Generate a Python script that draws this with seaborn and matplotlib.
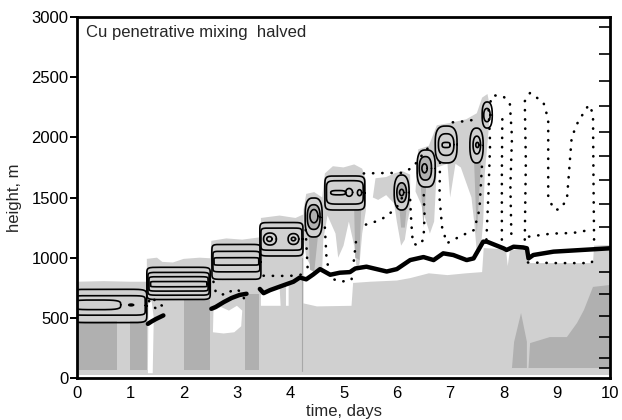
import numpy as np
import pandas as pd
import matplotlib
matplotlib.use("Agg")
import matplotlib.pyplot as plt
import seaborn as sns

# ---------------- data ----------------
# axis ticks
x_ticks = [0, 1, 2, 3, 4, 5, 6, 7, 8, 9, 10]
y_ticks = [0, 500, 1000, 1500, 2000, 2500, 3000]
right_ticks_m = [81, 164, 343, 518, 698, 883, 1069, 1258, 1446, 1645,
                 1848, 2047, 2261, 2471, 2692, 2914]

# boundary-layer top (thick line), three segments: day, height (m)
bl_seg1_day = [1.33, 1.40, 1.48, 1.55, 1.62]
bl_seg1_h = [450, 470, 490, 505, 520]
bl_seg2_day = [2.52, 2.60, 2.75, 2.90, 3.05, 3.18]
bl_seg2_h = [575, 590, 630, 665, 690, 700]
bl_seg3_day = [3.43, 3.50, 3.62, 3.87, 4.06, 4.18, 4.30, 4.43, 4.56, 4.75,
               4.93, 5.12, 5.22, 5.43, 5.81, 6.00, 6.25, 6.50, 6.69, 6.87,
               7.06, 7.31, 7.44, 7.62, 7.69, 8.00, 8.06, 8.19, 8.37, 8.44,
               8.47, 8.56, 8.94, 10.0]
bl_seg3_h = [740, 705, 730, 770, 800, 835, 820, 860, 905, 858,
             875, 880, 910, 925, 885, 905, 980, 1005, 980, 1036,
             1022, 980, 994, 1133, 1133, 1078, 1064, 1091, 1085, 1078,
             994, 1022, 1050, 1078]

# solid cloud contours: (day_left, day_right, h_bottom, h_top, squareness)
contours = [
    # day 1
    (-0.10, 1.31, 460, 737, 10), (-0.10, 1.28, 522, 684, 10),
    (-0.10, 0.82, 568, 648, 4), (0.97, 1.06, 600, 614, 2),
    # day 2
    (1.31, 2.50, 652, 920, 12), (1.33, 2.48, 688, 878, 12),
    (1.35, 2.46, 722, 842, 12), (1.38, 2.44, 758, 802, 12),
    # day 3
    (2.53, 3.45, 820, 1110, 12), (2.55, 3.43, 882, 1053, 12),
    (2.57, 3.41, 938, 1000, 12),
    # day 4
    (3.43, 4.24, 1014, 1292, 10), (3.45, 4.22, 1062, 1246, 10),
    (3.50, 3.74, 1105, 1205, 2.2), (3.56, 3.66, 1135, 1175, 2),
    (3.96, 4.16, 1110, 1200, 2.2), (4.02, 4.10, 1140, 1170, 2),
    # day 4.5
    (4.28, 4.60, 1172, 1496, 3), (4.32, 4.56, 1235, 1440, 2.5),
    (4.37, 4.52, 1290, 1400, 2),
    # day 5
    (4.65, 5.40, 1396, 1679, 8), (4.68, 5.37, 1445, 1640, 6),
    (4.76, 5.04, 1522, 1558, 3), (5.04, 5.17, 1510, 1575, 2),
    (5.26, 5.34, 1515, 1565, 2),
    # day 6
    (5.95, 6.23, 1396, 1687, 2.5), (6.00, 6.18, 1460, 1622, 2.2),
    (6.05, 6.13, 1515, 1568, 2),
    # day 6.5
    (6.38, 6.72, 1587, 1895, 3), (6.42, 6.65, 1645, 1840, 2.5),
    (6.47, 6.57, 1705, 1780, 2),
    # day 7
    (6.72, 7.13, 1787, 2094, 3), (6.78, 7.07, 1850, 2030, 2.6),
    (6.85, 7.00, 1915, 1958, 3),
    # day 7.5
    (7.37, 7.62, 1787, 2077, 2.5), (7.43, 7.57, 1862, 2010, 2.2),
    (7.48, 7.54, 1915, 1958, 2),
    (7.60, 7.79, 2077, 2294, 2.5), (7.63, 7.75, 2130, 2240, 2.2),
]
# contours that are filled light / mid grey
light_filled = [17, 20, 25, 28, 31, 35, 38]
mid_filled = [18, 26, 29, 36]

# dotted contours: lists of (day, height)
dotted = [
    [(1.35, 640), (1.42, 600), (1.50, 570), (1.58, 545)],
    [(1.45, 650), (1.52, 620), (1.60, 600)],
    [(2.56, 800), (2.60, 720), (2.68, 690), (2.80, 700)],
    [(2.88, 720), (3.00, 740), (3.10, 700), (3.15, 640)],
    [(3.50, 850), (3.80, 848), (4.05, 850), (4.22, 860)],
    [(4.29, 1230), (4.31, 1050), (4.33, 880)],
    [(4.65, 1250), (4.68, 1000), (4.75, 830), (4.95, 800), (5.15, 815),
     (5.20, 1000), (5.25, 1200)],
    [(5.42, 1275), (5.60, 1300), (5.80, 1340), (6.00, 1420), (6.10, 1500)],
    [(5.38, 1700), (5.70, 1703), (6.10, 1705), (6.30, 1750), (6.45, 1840),
     (6.62, 1930)],
    [(7.05, 2125), (7.30, 2135), (7.50, 2150)],
    [(6.25, 1480), (6.27, 1300), (6.30, 1120), (6.40, 1100), (6.50, 1150),
     (6.52, 1350), (6.50, 1590)],
    [(6.81, 1790), (6.80, 1500), (6.85, 1250), (6.94, 1120), (7.20, 1180),
     (7.45, 1230), (7.55, 1400), (7.60, 1790)],
    [(7.68, 1150), (7.72, 1550), (7.75, 1950), (7.72, 2250), (7.80, 2350),
     (8.00, 2340), (8.12, 2280), (8.16, 2000), (8.13, 1600), (8.15, 1150)],
    [(7.97, 1150), (7.97, 1700), (7.98, 2200)],
    [(8.40, 1150), (8.42, 1800), (8.40, 2300), (8.50, 2370), (8.75, 2290),
     (8.84, 2150), (8.84, 1500), (8.95, 1400), (9.05, 1400), (9.19, 1480),
     (9.28, 2000), (9.40, 2130), (9.60, 2270), (9.68, 2200), (9.69, 1600),
     (9.70, 1150)],
    [(8.48, 1175), (8.90, 1200), (9.30, 1205), (9.62, 1230)],
    [(8.46, 960), (9.00, 955), (9.65, 955), (9.70, 1000)],
]

# shaded areas (day, height)
light_areas = [
    [(0, 25), (0, 800), (0.5, 805), (1.0, 800), (1.31, 800), (1.31, 990),
     (1.5, 1000), (1.6, 965), (1.8, 960), (2.0, 990), (2.3, 1000),
     (2.5, 995), (2.52, 1140), (2.8, 1160), (3.1, 1150), (3.45, 1170),
     (3.45, 1330), (3.8, 1350), (4.1, 1330), (4.25, 1360), (4.25, 620),
     (4.5, 595), (5.15, 600), (5.18, 790), (5.5, 800), (6.0, 810),
     (6.25, 830), (6.6, 870), (6.95, 855), (7.3, 870), (7.6, 880),
     (7.63, 1080), (8.0, 1070), (8.05, 1060), (8.08, 930), (8.12, 1060),
     (8.44, 1075), (8.45, 955), (9.68, 955), (9.7, 1100), (10, 1105),
     (10, 25)],
    [(4.25, 1180), (4.25, 1400), (4.30, 1530), (4.45, 1545), (4.60, 1500),
     (4.65, 1700), (4.80, 1760), (5.00, 1750), (5.20, 1775), (5.35, 1740),
     (5.42, 1650), (5.42, 1396), (5.35, 1200), (5.30, 950), (5.25, 900),
     (5.20, 1100), (5.10, 1300), (5.00, 1100), (4.90, 1000), (4.85, 1200),
     (4.70, 1350), (4.62, 1150), (4.60, 900), (4.50, 870), (4.40, 920),
     (4.30, 1000)],
    [(5.55, 1500), (5.60, 1660), (5.80, 1670), (5.95, 1700), (6.10, 1720),
     (6.25, 1690), (6.25, 1400), (6.20, 1300), (6.15, 1150), (6.08, 1100),
     (6.00, 1300), (5.95, 1450), (5.80, 1520), (5.65, 1480)],
    [(6.35, 1550), (6.40, 1900), (6.60, 1930), (6.75, 2100), (7.00, 2120),
     (7.30, 2150), (7.50, 2200), (7.60, 2330), (7.70, 2360), (7.75, 2250),
     (7.72, 2050), (7.65, 1700), (7.62, 1300), (7.58, 1100), (7.50, 1050),
     (7.45, 1300), (7.40, 1500), (7.20, 1750), (7.10, 1780), (7.00, 1500),
     (6.95, 1780), (6.75, 1750), (6.70, 1300), (6.62, 1200), (6.55, 1300),
     (6.45, 1450)],
]
clear_areas = [
    [(1.33, 40), (1.34, 620), (1.40, 640), (1.44, 500), (1.42, 40)],
    [(2.55, 380), (2.56, 560), (2.70, 590), (2.85, 560), (3.00, 600),
     (3.10, 560), (3.08, 430), (2.95, 380), (2.75, 370)],
    [(3.45, 600), (3.45, 720), (3.60, 715), (3.80, 760), (3.82, 600)],
    [(3.92, 600), (3.92, 790), (3.97, 795), (3.97, 600)],
]
mid_areas = [
    [(0.0, 66), (0.0, 470), (0.75, 470), (0.75, 66)],
    [(1.0, 66), (1.0, 470), (1.31, 470), (1.31, 66)],
    [(2.0, 66), (2.0, 650), (2.5, 650), (2.5, 66)],
    [(3.15, 66), (3.15, 700), (3.42, 700), (3.42, 66)],
    [(4.35, 1180), (4.37, 900), (4.45, 880), (4.52, 1180)],
    [(5.20, 1400), (5.22, 1000), (5.30, 980), (5.33, 1400)],
    [(6.05, 1400), (6.08, 1250), (6.15, 1250), (6.18, 1400)],
    [(6.45, 1590), (6.50, 1250), (6.55, 1590)],
    [(7.45, 1790), (7.50, 1200), (7.58, 1790)],
    [(8.16, 83), (8.20, 300), (8.33, 540), (8.44, 300), (8.44, 83)],
    [(8.47, 83), (8.50, 290), (8.87, 340), (9.19, 340), (9.38, 457),
     (9.51, 565), (9.68, 757), (10, 773), (10, 83)],
]

LIGHT = "#d0d0d0"
MID = "#b0b0b0"

sns.set_theme(style="white")
plt.rcParams["font.family"] = ["Liberation Sans", "DejaVu Sans"]

fig = plt.figure(figsize=(6.22, 4.20), dpi=100)
ax = fig.add_axes([0.1238, 0.10, 0.857, 0.8595])


def closed_curve(spec, n=240):
    x0, x1, y0, y1, p = spec
    t = np.linspace(0, 2 * np.pi, n)
    c, s = np.cos(t), np.sin(t)
    x = (x0 + x1) / 2 + (x1 - x0) / 2 * np.sign(c) * np.abs(c) ** (2 / p)
    y = (y0 + y1) / 2 + (y1 - y0) / 2 * np.sign(s) * np.abs(s) ** (2 / p)
    return x, y


for poly in light_areas:
    xs, ys = zip(*poly)
    ax.fill(xs, ys, color=LIGHT, lw=0, zorder=1)
for poly in clear_areas:
    xs, ys = zip(*poly)
    ax.fill(xs, ys, color="white", lw=0, zorder=1.5)
for poly in mid_areas:
    xs, ys = zip(*poly)
    ax.fill(xs, ys, color=MID, lw=0, zorder=2)
ax.plot([4.22, 4.22], [60, 1000], color="#a8a8a8", lw=0.8, zorder=2)

for i in light_filled:
    xs, ys = closed_curve(contours[i])
    ax.fill(xs, ys, color=LIGHT, lw=0, zorder=2.5)
for i in mid_filled:
    xs, ys = closed_curve(contours[i])
    ax.fill(xs, ys, color=MID, lw=0, zorder=2.6)

# solid contours
rows = []
for k, spec in enumerate(contours):
    xs, ys = closed_curve(spec)
    for j, (a, b) in enumerate(zip(xs, ys)):
        rows.append((k, j, a, b))
cdf = pd.DataFrame(rows, columns=["cid", "order", "day", "height"])
sns.lineplot(data=cdf, x="day", y="height", units="cid", estimator=None,
             sort=False, color="black", linewidth=1.2, ax=ax, zorder=4)

# dotted contours
rows = []
for k, path in enumerate(dotted):
    for a, b in path:
        rows.append((k, a, b))
ddf = pd.DataFrame(rows, columns=["cid", "day", "height"])
sns.lineplot(data=ddf, x="day", y="height", units="cid", estimator=None,
             sort=False, color="black", linewidth=1.9,
             linestyle=(0, (0.1, 3.4)), dash_capstyle="round", ax=ax, zorder=4)

# boundary-layer top
bl = pd.DataFrame({
    "day": bl_seg1_day + bl_seg2_day + bl_seg3_day,
    "height": bl_seg1_h + bl_seg2_h + bl_seg3_h,
    "seg": [1] * len(bl_seg1_day) + [2] * len(bl_seg2_day) + [3] * len(bl_seg3_day),
})
sns.lineplot(data=bl, x="day", y="height", units="seg", estimator=None,
             sort=False, color="black", linewidth=3.2, ax=ax, zorder=5,
             solid_capstyle="round")

ax.set_xlim(0, 10)
ax.set_ylim(0, 3000)
ax.set_xticks(x_ticks)
ax.set_yticks(y_ticks)
ax.set_xticklabels([str(v) for v in x_ticks], fontsize=12)
ax.set_yticklabels([str(v) for v in y_ticks], fontsize=12)
ax.tick_params(axis="both", direction="out", length=5, width=1.4,
               color="black", pad=1, labelcolor="black")
ax.set_xlabel("time, days", fontsize=12, labelpad=2)
ax.set_ylabel("height, m", fontsize=12, labelpad=7)
for sp in ax.spines.values():
    sp.set_visible(True)
    sp.set_linewidth(2.0)
    sp.set_color("black")

ax2 = ax.twinx()
ax2.set_ylim(0, 3000)
ax2.set_yticks(right_ticks_m)
ax2.set_yticklabels([])
ax2.tick_params(axis="y", direction="in", length=8, width=1.2, color="black")
for sp in ax2.spines.values():
    sp.set_visible(False)

ax.text(0.016, 0.978, "Cu penetrative mixing  halved", transform=ax.transAxes,
        fontsize=12, va="top", ha="left", zorder=6)

fig.savefig("out.png", dpi=100)
